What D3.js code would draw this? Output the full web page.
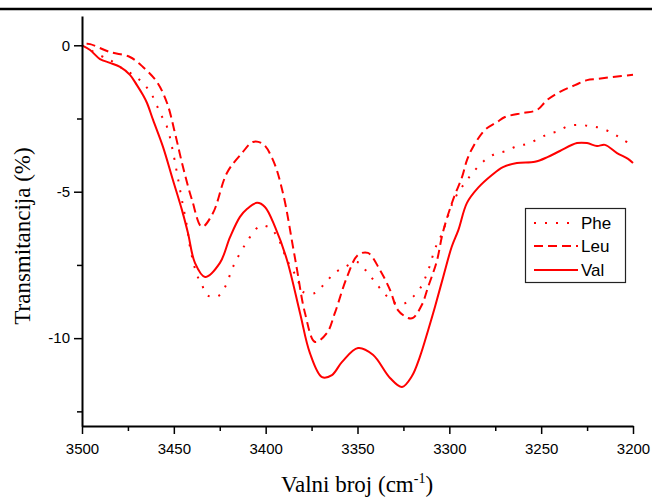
<!DOCTYPE html>
<html>
<head>
<meta charset="utf-8">
<script src="https://cdn.jsdelivr.net/npm/d3@7"></script>
<style>
  html, body { margin: 0; padding: 0; background: #fff; }
  svg { display: block; }
</style>
</head>
<body>
<svg id="chart" width="652" height="499"></svg>
<script>
// IR spectra (N–H / O–H stretching region) of three amino acids

// Phe
const pheWavenumber = [3500, 3490, 3484.8, 3479.3, 3472.2, 3466.8, 3461.9, 3457.5, 3453.7, 3451.0, 3448.3, 3445.6, 3442.8, 3441.2, 3437.4, 3434.7, 3431.9, 3426.5, 3422.1, 3417.8, 3411.3, 3403.1, 3397.6, 3393.3, 3388.4, 3382.9, 3379.7, 3373.1, 3367.7, 3362.3, 3356.8, 3350.3, 3344.8, 3340.5, 3336.1, 3330.7, 3325.2, 3319.8, 3315.4, 3312.7, 3310.5, 3308.9, 3306.7, 3304.0, 3298.0, 3294.2, 3290.4, 3286.0, 3280.6, 3275.1, 3269.2, 3263.2, 3257.7, 3251.7, 3246.3, 3240.8, 3235.4, 3228.9, 3223.4, 3218.0, 3211.5, 3206.0, 3200];
const pheTransmittance = [0.00, -0.35, -0.50, -0.74, -1.01, -1.29, -1.70, -2.31, -2.79, -3.47, -4.36, -5.28, -6.20, -6.89, -7.84, -8.18, -8.53, -8.59, -8.25, -7.57, -6.82, -6.17, -6.24, -6.58, -7.33, -7.95, -8.42, -8.46, -8.12, -7.77, -7.57, -7.40, -7.74, -8.08, -8.42, -8.76, -8.83, -8.59, -8.25, -7.88, -7.50, -7.16, -6.78, -6.44, -5.35, -4.94, -4.60, -4.26, -3.92, -3.71, -3.61, -3.44, -3.37, -3.20, -3.03, -2.93, -2.76, -2.72, -2.76, -2.82, -2.99, -3.20, -3.44];

// Leu
const leuWavenumber = [3497.5, 3495.6, 3484.8, 3473.9, 3466.8, 3459.2, 3453.7, 3449.4, 3445.0, 3440.1, 3434.7, 3428.7, 3421.1, 3412.9, 3406.9, 3401.5, 3396.0, 3390.6, 3385.1, 3382.9, 3378.6, 3373.1, 3366.6, 3362.3, 3355.7, 3349.7, 3344.3, 3337.8, 3332.3, 3328.0, 3322.5, 3319.8, 3315.0, 3311.5, 3306.9, 3303.4, 3298.0, 3293.1, 3290.4, 3287.1, 3280.6, 3274.0, 3269.7, 3259.9, 3252.3, 3246.8, 3239.8, 3231.6, 3225.0, 3219.6, 3210.9, 3200];
const leuTransmittance = [0.05, 0.04, -0.23, -0.40, -0.74, -1.25, -1.97, -2.99, -4.16, -5.28, -6.20, -5.73, -4.36, -3.68, -3.30, -3.37, -3.92, -5.04, -6.89, -7.67, -9.14, -10.13, -9.82, -9.14, -7.91, -7.16, -7.09, -7.67, -8.35, -9.04, -9.31, -9.31, -8.87, -8.24, -7.39, -6.36, -5.28, -4.50, -3.92, -3.47, -2.89, -2.62, -2.45, -2.31, -2.21, -1.87, -1.59, -1.36, -1.19, -1.15, -1.08, -1.01];

// Val
const valWavenumber = [3500, 3495.6, 3490.2, 3484.8, 3479.3, 3473.9, 3470.1, 3466.8, 3464.6, 3461.3, 3455.9, 3450.5, 3445.6, 3442.3, 3438.5, 3433.0, 3424.9, 3419.4, 3414.0, 3410.2, 3404.7, 3400.4, 3394.9, 3388.4, 3381.3, 3375.9, 3369.3, 3363.9, 3358.4, 3349.7, 3341.6, 3332.3, 3325.8, 3320.5, 3316.0, 3311.5, 3307.8, 3303.3, 3298.7, 3295.1, 3290.4, 3284.4, 3276.8, 3270.8, 3263.2, 3253.4, 3246.3, 3239.8, 3230.5, 3225.0, 3219.6, 3215.3, 3208.7, 3202.7, 3200];
const valTransmittance = [0.00, -0.16, -0.47, -0.60, -0.74, -1.01, -1.36, -1.70, -1.97, -2.55, -3.47, -4.60, -5.62, -6.41, -7.43, -7.91, -7.43, -6.55, -5.86, -5.59, -5.38, -5.52, -6.20, -7.33, -9.14, -10.51, -11.33, -11.26, -10.81, -10.34, -10.57, -11.36, -11.67, -11.31, -10.63, -9.72, -8.93, -7.90, -6.88, -6.31, -5.38, -4.87, -4.43, -4.16, -4.02, -3.98, -3.81, -3.61, -3.34, -3.34, -3.44, -3.40, -3.68, -3.88, -4.02];

// Axis ticks
const xMajorTicks = [3500, 3450, 3400, 3350, 3300, 3250, 3200];
const xMinorTicks = [3475, 3425, 3375, 3325, 3275, 3225];
const yMajorTicks = [0, -5, -10];
const yMinorTicks = [-2.5, -7.5, -12.5];

const seriesNames = ["Phe", "Leu", "Val"];

const series = [
  { name: seriesNames[0], x: pheWavenumber, y: pheTransmittance, dash: "2,9", width: 2 },
  { name: seriesNames[1], x: leuWavenumber, y: leuTransmittance, dash: "9,5", width: 2 },
  { name: seriesNames[2], x: valWavenumber, y: valTransmittance, dash: null, width: 2 }
];

const svg = d3.select("#chart");
const plotLeft = 82, plotRight = 633, plotTop = 16, plotBottom = 426;
const lineColor = "#ff0000";
const tickFont = "'Liberation Sans', Arial, sans-serif";
const titleFont = "'Liberation Serif', 'Times New Roman', serif";

const x = d3.scaleLinear().domain([3500, 3200]).range([plotLeft, plotRight]);
const y = d3.scaleLinear().domain([1, -13]).range([plotTop, plotBottom]);

// rule along the top edge
svg.append("line")
  .attr("x1", 0).attr("x2", 652).attr("y1", 9).attr("y2", 9)
  .attr("stroke", "#000").attr("stroke-width", 2.5);

// spectra
const line = d3.line()
  .x(d => x(d[0]))
  .y(d => y(d[1]))
  .curve(d3.curveCatmullRom.alpha(0.5));

const plot = svg.append("g");
series.forEach(s => {
  const pts = s.x.map((w, i) => [w, s.y[i]]);
  plot.append("path")
    .datum(pts)
    .attr("d", line)
    .attr("fill", "none")
    .attr("stroke", lineColor)
    .attr("stroke-width", s.width)
    .attr("stroke-dasharray", s.dash)
    .attr("stroke-linejoin", "round");
});

// axes
function styleAxis(g) {
  g.selectAll(".domain").attr("stroke", "#000").attr("stroke-width", 2);
  g.selectAll(".tick line").attr("stroke", "#000").attr("stroke-width", 1.5);
  g.selectAll(".tick text")
    .attr("fill", "#000")
    .style("font-family", tickFont)
    .style("font-size", "15px");
}

const xAxis = svg.append("g")
  .attr("transform", `translate(0,${plotBottom})`)
  .call(d3.axisBottom(x).tickValues(xMajorTicks).tickSize(8).tickSizeOuter(0).tickPadding(9)
    .tickFormat(d3.format("d")));
styleAxis(xAxis);

const xMinor = svg.append("g")
  .attr("transform", `translate(0,${plotBottom})`)
  .call(d3.axisBottom(x).tickValues(xMinorTicks).tickSize(5).tickSizeOuter(0).tickFormat(""));
styleAxis(xMinor);
xMinor.select(".domain").remove();

const yAxis = svg.append("g")
  .attr("transform", `translate(${plotLeft},0)`)
  .call(d3.axisLeft(y).tickValues(yMajorTicks).tickSize(8).tickSizeOuter(0).tickPadding(4)
    .tickFormat(d => d3.format("d")(d).replace("−", "-")));
styleAxis(yAxis);

const yMinor = svg.append("g")
  .attr("transform", `translate(${plotLeft},0)`)
  .call(d3.axisLeft(y).tickValues(yMinorTicks).tickSize(5).tickSizeOuter(0).tickFormat(""));
styleAxis(yMinor);
yMinor.select(".domain").remove();

// axis titles
svg.append("text")
  .attr("transform", "translate(30,236) rotate(-90)")
  .attr("text-anchor", "middle")
  .style("font-family", titleFont)
  .style("font-size", "23px")
  .attr("fill", "#000")
  .text("Transmitancija (%)");

const xt = svg.append("text")
  .attr("x", 357).attr("y", 492)
  .attr("text-anchor", "middle")
  .style("font-family", titleFont)
  .style("font-size", "23px")
  .attr("fill", "#000");
xt.append("tspan").text("Valni broj (cm");
xt.append("tspan").attr("dy", -9).style("font-size", "14px").text("-1");
xt.append("tspan").attr("dy", 9).text(")");

// legend
const legend = svg.append("g");
legend.append("rect")
  .attr("x", 525.5).attr("y", 208.5).attr("width", 100).attr("height", 74)
  .attr("fill", "#fff").attr("stroke", "#222").attr("stroke-width", 1.2);

const legendRows = [223, 246, 270];
series.forEach((s, i) => {
  const ly = legendRows[i];
  legend.append("line")
    .attr("x1", 534).attr("x2", 578).attr("y1", ly).attr("y2", ly)
    .attr("stroke", lineColor)
    .attr("stroke-width", s.width)
    .attr("stroke-dasharray", s.dash);
  legend.append("text")
    .attr("x", 581).attr("y", ly + 5.5)
    .style("font-family", tickFont)
    .style("font-size", "17px")
    .attr("fill", "#000")
    .text(s.name);
});
</script>
</body>
</html>
